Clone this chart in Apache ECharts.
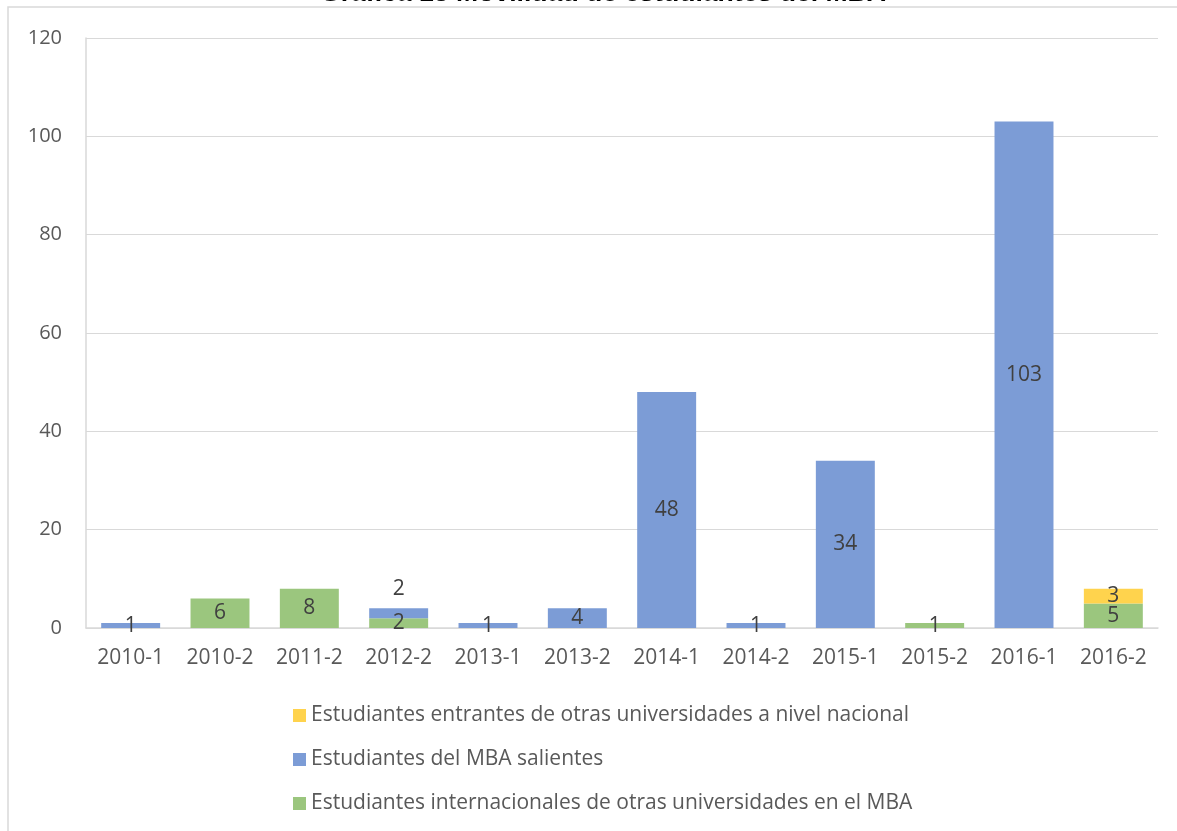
<!DOCTYPE html>
<html>
<head>
<meta charset="utf-8">
<script src="https://cdn.jsdelivr.net/npm/echarts@6/dist/echarts.min.js"></script>
<style>
  * { margin: 0; padding: 0; }
  body { background: #fff; }
  #chart { width: 1177px; height: 831px; }
</style>
</head>
<body>
<div id="chart"></div>
<script>
// periodos
var categories = ['2010-1', '2010-2', '2011-2', '2012-2', '2013-1', '2013-2', '2014-1', '2014-2', '2015-1', '2015-2', '2016-1', '2016-2'];
// series (null = sin dato)
var internacionales = [null, 6, 8, 2, null, null, null, null, null, 1, null, 5];
var salientes = [1, null, null, 2, 1, 4, 48, 1, 34, null, 103, null];
var nacionales = [null, null, null, null, null, null, null, null, null, null, null, 3];
var yTicks = [0, 20, 40, 60, 80, 100, 120];

var nameNac = 'Estudiantes entrantes de otras universidades a nivel nacional';
var nameSal = 'Estudiantes del MBA salientes';
var nameInt = 'Estudiantes internacionales de otras universidades en el MBA';

var font = '"Open Sans", sans-serif';
var labelStyle = { show: true, position: 'inside', color: '#404040', fontSize: 21, fontFamily: font };

// la etiqueta azul de 2012-2 va encima de la barra
var salientesData = salientes.map(function (v, i) {
  if (categories[i] === '2012-2') {
    return { value: v, label: { position: 'top', distance: 9 } };
  }
  return v;
});

var chart = echarts.init(document.getElementById('chart'));
chart.setOption({
  animation: false,
  title: {
    text: 'Gráfica 13 Movilidad de estudiantes del MBA',
    left: 315,
    top: -25,
    textStyle: { fontFamily: '"Liberation Sans", Arial, sans-serif', fontWeight: 'bold', fontSize: 26.6, color: '#000' }
  },
  graphic: [{
    type: 'rect',
    shape: { x: 8, y: 7, width: 1300, height: 1000 },
    style: { fill: 'none', stroke: '#d9d9d9', lineWidth: 1.5 },
    silent: true
  }],
  legend: {
    orient: 'vertical',
    left: 288,
    top: 700,
    itemGap: 23,
    itemWidth: 13,
    itemHeight: 13,
    icon: 'rect',
    textStyle: { fontFamily: font, fontSize: 21, color: '#595959' },
    data: [nameNac, nameSal, nameInt]
  },
  grid: { left: 86, right: 19, top: 38, bottom: 203, containLabel: false },
  xAxis: {
    type: 'category',
    data: categories,
    axisLine: { lineStyle: { color: '#d9d9d9', width: 1.5 } },
    axisTick: { show: false },
    axisLabel: { fontFamily: font, fontSize: 21, color: '#595959', margin: 20 }
  },
  yAxis: {
    type: 'value',
    min: yTicks[0],
    max: yTicks[yTicks.length - 1],
    interval: yTicks[1] - yTicks[0],
    axisLine: { show: true, lineStyle: { color: '#d9d9d9', width: 1.5 } },
    axisTick: { show: false },
    splitLine: { lineStyle: { color: '#d9d9d9', width: 1 } },
    axisLabel: { fontFamily: font, fontSize: 20, color: '#595959', margin: 24 }
  },
  series: [
    { name: nameInt, type: 'bar', stack: 'a', data: internacionales, itemStyle: { color: '#9bc67e' }, label: labelStyle, barCategoryGap: '34%' },
    { name: nameSal, type: 'bar', stack: 'a', data: salientesData, itemStyle: { color: '#7c9cd6' }, label: labelStyle },
    { name: nameNac, type: 'bar', stack: 'a', data: nacionales, itemStyle: { color: '#ffd34d' }, label: labelStyle }
  ]
});
</script>
</body>
</html>
